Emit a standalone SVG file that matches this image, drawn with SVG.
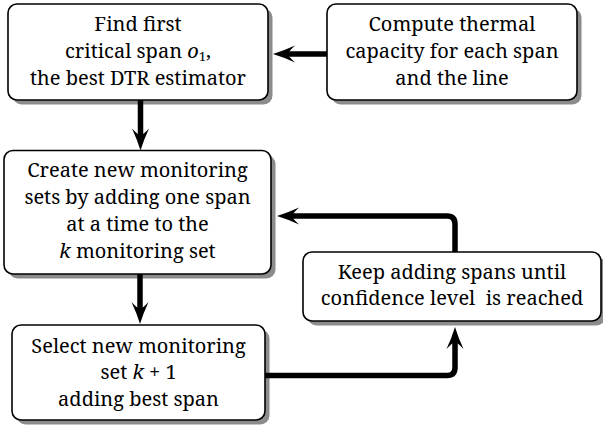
<svg xmlns="http://www.w3.org/2000/svg" width="603" height="430" viewBox="0 0 603 430">
<style>
.shadow{fill:#8c8c8c;}
.box{fill:#fff;stroke:#000;stroke-width:1.6;}
text{font-family:'Noto Serif','DejaVu Serif',serif;font-size:20px;fill:#000;text-anchor:middle;}
.m{font-style:italic;}
.sub{font-size:13px;}
.conn{fill:none;stroke:#000;stroke-width:5.5;}
</style>
<defs>
<marker id="arr" markerUnits="userSpaceOnUse" viewBox="-24 -10 26 20" markerWidth="26" markerHeight="20" refX="-14" refY="0" orient="auto" overflow="visible">
<path d="M0,0 Q-10,-3 -22,-8.5 Q-16,-3 -15,0 Q-16,3 -22,8.5 Q-10,3 0,0 Z" fill="#000"/>
</marker>
</defs>

<g id="find-first">
<rect class="shadow" x="12.5" y="8.5" width="260" height="96" rx="9"/>
<rect class="box" x="8" y="4" width="260" height="96" rx="9"/>
<text x="138" y="31">Find first</text>
<text x="138" y="58">critical span <tspan class="m">o</tspan><tspan class="sub" dy="3">1</tspan><tspan dy="-3">,</tspan></text>
<text x="138" y="85">the best DTR estimator</text>
</g>

<g id="compute">
<rect class="shadow" x="331.5" y="8.5" width="250" height="96" rx="9"/>
<rect class="box" x="327" y="4" width="250" height="96" rx="9"/>
<text x="452" y="31">Compute thermal</text>
<text x="452" y="58">capacity for each span</text>
<text x="452" y="85">and the line</text>
</g>

<g id="create">
<rect class="shadow" x="8.5" y="155" width="267" height="123.5" rx="9"/>
<rect class="box" x="4" y="150.5" width="267" height="123.5" rx="9"/>
<text x="137.5" y="177">Create new monitoring</text>
<text x="137.5" y="204">sets by adding one span</text>
<text x="137.5" y="231">at a time to the</text>
<text x="137.5" y="258"><tspan class="m">k</tspan> monitoring set</text>
</g>

<g id="keep-adding">
<rect class="shadow" x="307.5" y="256.5" width="298" height="69" rx="9"/>
<rect class="box" x="303" y="252" width="298" height="69" rx="9"/>
<text x="452" y="279">Keep adding spans until</text>
<text x="452" y="305" style="white-space:pre">confidence level  is reached</text>
</g>

<g id="select">
<rect class="shadow" x="16.5" y="329.5" width="253" height="95" rx="9"/>
<rect class="box" x="12" y="325" width="253" height="95" rx="9"/>
<text x="138.5" y="353">Select new monitoring</text>
<text x="138.5" y="379">set <tspan class="m">k</tspan> + 1</text>
<text x="138.5" y="406">adding best span</text>
</g>

<g id="connectors">
<path class="conn" d="M327,54 H287" marker-end="url(#arr)"/>
<path class="conn" d="M140.5,100 V136.5" marker-end="url(#arr)"/>
<path class="conn" d="M140,274 V310" marker-end="url(#arr)"/>
<path class="conn" d="M265,375.5 H447 Q455,375.5 455,367.5 V341" marker-end="url(#arr)"/>
<path class="conn" d="M455,252 V224 Q455,216 447,216 H291" marker-end="url(#arr)"/>
</g>
</svg>
